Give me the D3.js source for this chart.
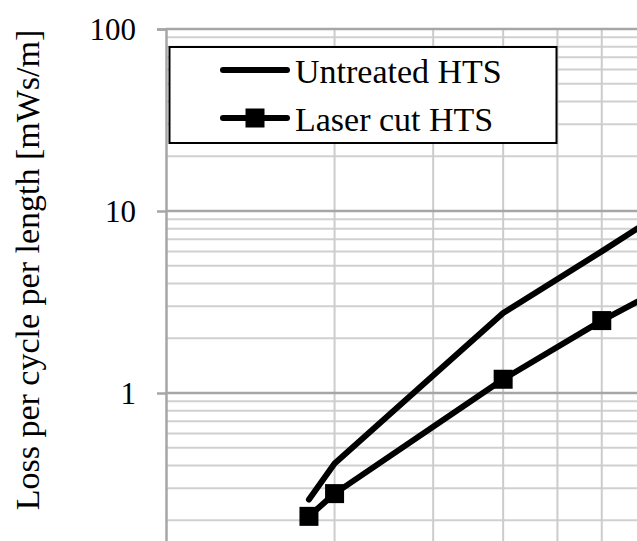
<!DOCTYPE html>
<html>
<head>
<meta charset="utf-8">
<script src="https://cdn.jsdelivr.net/npm/d3@7"></script>
<style>
  html, body { margin: 0; padding: 0; background: #ffffff; }
  svg { display: block; }
</style>
</head>
<body>
<svg id="chart" width="637" height="541" font-family="Liberation Serif"></svg>
<script>
// Loss per cycle versus amplitude, log-log
const xValues   = [18, 20, 40, 60, 80];
const untreated = [0.26, 0.41, 2.75, 6.0, 10.6];
const laserCut  = [0.21, 0.28, 1.19, 2.5, 4.0];

const seriesNames = ["Untreated HTS", "Laser cut HTS"];
const yTickValues = [1, 10, 100];
const yTitle = "Loss per cycle per length [mWs/m]";

const SERIF = "Liberation Serif";
const svg = d3.select("#chart");

// plot area (extends past the visible canvas on the right and bottom)
const plot = { left: 166, top: 29, right: 726, bottom: 575 };

const x = d3.scaleLog().domain([10, 100]).range([plot.left, plot.right]);
const y = d3.scaleLog().domain([0.1, 100]).range([plot.bottom, plot.top]);

// minor / major gridlines
const yMinor = [];
[0.1, 1, 10].forEach(d => { for (let k = 2; k <= 9; k++) yMinor.push(d * k); });
const xMinor = [];
for (let k = 2; k <= 9; k++) xMinor.push(10 * k);

const grid = svg.append("g");
grid.selectAll("line.ymin").data(yMinor).join("line")
  .attr("x1", plot.left).attr("x2", plot.right)
  .attr("y1", d => y(d)).attr("y2", d => y(d))
  .attr("stroke", "#d0d0d0").attr("stroke-width", 2);
grid.selectAll("line.xmin").data(xMinor).join("line")
  .attr("x1", d => x(d)).attr("x2", d => x(d))
  .attr("y1", plot.top).attr("y2", plot.bottom)
  .attr("stroke", "#cccccc").attr("stroke-width", 2);
grid.selectAll("line.ymaj").data(yTickValues).join("line")
  .attr("x1", plot.left).attr("x2", plot.right)
  .attr("y1", d => y(d)).attr("y2", d => y(d))
  .attr("stroke", "#a6a6a6").attr("stroke-width", 2.5);

// y axis
const yAxis = svg.append("g")
  .attr("transform", `translate(${plot.left},0)`)
  .call(d3.axisLeft(y).tickValues(yTickValues).tickSize(9).tickPadding(21)
    .tickFormat(d3.format("d")));
yAxis.attr("font-family", SERIF).attr("font-size", 31);
yAxis.select(".domain").attr("stroke", "#a6a6a6").attr("stroke-width", 2.5);
yAxis.selectAll(".tick line").attr("stroke", "#a6a6a6").attr("stroke-width", 2.5);
yAxis.selectAll(".tick text")
  .attr("fill", "#000").attr("dy", "0.34em")
  .attr("font-family", SERIF).attr("font-size", 31);

// y axis title
svg.append("text")
  .attr("transform", "translate(39,270) rotate(-90)")
  .attr("text-anchor", "middle")
  .attr("font-family", SERIF)
  .attr("font-size", 34)
  .attr("fill", "#000")
  .text(yTitle);

// series lines
const line = d3.line().x(d => x(d[0])).y(d => y(d[1]));
const dataU = xValues.map((v, i) => [v, untreated[i]]);
const dataL = xValues.map((v, i) => [v, laserCut[i]]);

svg.append("path").datum(dataU)
  .attr("d", line).attr("fill", "none").attr("stroke", "#000")
  .attr("stroke-width", 6).attr("stroke-linejoin", "round").attr("stroke-linecap", "round");
svg.append("path").datum(dataL)
  .attr("d", line).attr("fill", "none").attr("stroke", "#000")
  .attr("stroke-width", 6).attr("stroke-linejoin", "round").attr("stroke-linecap", "round");

const ms = 19;
svg.selectAll("rect.marker").data(dataL).join("rect")
  .attr("class", "marker")
  .attr("x", d => x(d[0]) - ms / 2).attr("y", d => y(d[1]) - ms / 2)
  .attr("width", ms).attr("height", ms).attr("fill", "#000");

// legend
const lg = svg.append("g");
lg.append("rect")
  .attr("x", 169.5).attr("y", 47).attr("width", 387).attr("height", 96)
  .attr("fill", "#fff").attr("stroke", "#000").attr("stroke-width", 2);
const rows = [70, 118];
seriesNames.forEach((name, i) => {
  lg.append("line")
    .attr("x1", 223).attr("x2", 287).attr("y1", rows[i]).attr("y2", rows[i])
    .attr("stroke", "#000").attr("stroke-width", 6).attr("stroke-linecap", "round");
  if (i === 1) {
    lg.append("rect")
      .attr("x", 255 - ms / 2).attr("y", rows[i] - ms / 2)
      .attr("width", ms).attr("height", ms).attr("fill", "#000");
  }
  lg.append("text")
    .attr("x", 295).attr("y", rows[i] + 12.5)
    .attr("font-family", SERIF)
    .attr("font-size", 34).attr("fill", "#000")
    .text(name);
});
</script>
</body>
</html>
